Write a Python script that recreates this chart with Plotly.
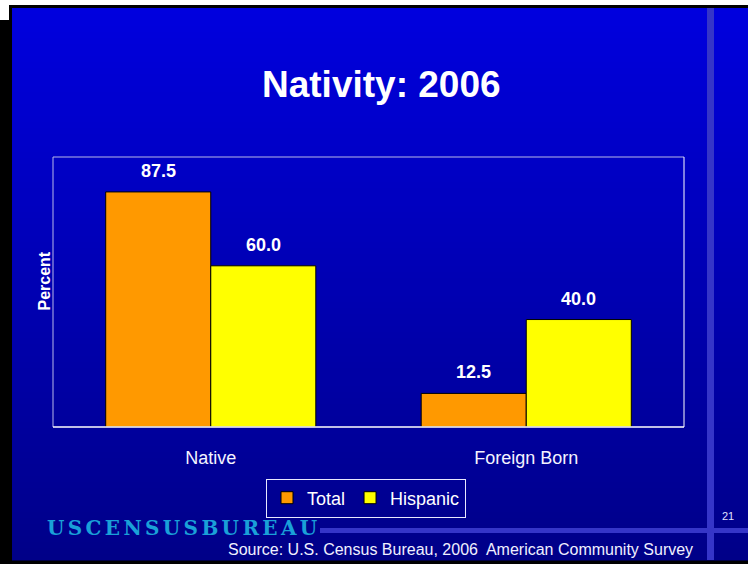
import plotly.graph_objects as go

# Nativity shares, 2006 (percent)
categories = ["Native", "Foreign Born"]
series_names = ["Total", "Hispanic"]
total_values = [87.5, 12.5]
hispanic_values = [60.0, 40.0]
bar_colors = ["#FF9900", "#FFFF00"]

W, H = 748, 564
L, R, T, B = 53, 684, 157, 427  # plot area in pixels
PW, PH = R - L, B - T


def px(x):
    return (x - L) / PW


def py(y):
    return (B - y) / PH


fig = go.Figure()
for name, vals, col in zip(series_names, [total_values, hispanic_values], bar_colors):
    fig.add_trace(go.Bar(
        x=categories, y=vals, name=name,
        marker=dict(color=col, line=dict(color="#000000", width=1)),
    ))

shapes = []
# white page with a black slide frame
shapes.append(dict(type="rect", xref="paper", yref="paper", layer="below",
                   x0=px(9), x1=px(760), y0=py(5), y1=py(570),
                   fillcolor="#000000", line=dict(width=0)))
shapes.append(dict(type="rect", xref="paper", yref="paper", layer="below",
                   x0=px(0), x1=px(9), y0=py(20), y1=py(570),
                   fillcolor="#000000", line=dict(width=0)))
# vertical blue gradient background
top_y, bot_y = 8, 560
c_top, c_bot = (0, 0, 222), (0, 0, 136)
n = 92
for i in range(n):
    y0 = top_y + (bot_y - top_y) * i / n
    y1 = top_y + (bot_y - top_y) * (i + 1) / n
    t = (i + 0.5) / n
    c = tuple(round(a + (b - a) * t) for a, b in zip(c_top, c_bot))
    shapes.append(dict(type="rect", xref="paper", yref="paper", layer="below",
                       x0=px(12), x1=px(760), y0=py(y0), y1=py(y1 + 0.6),
                       fillcolor="rgb(%d,%d,%d)" % c, line=dict(width=0)))
# decorative stripes
stripe = "#3535C8"
shapes.append(dict(type="rect", xref="paper", yref="paper", layer="below",
                   x0=px(707), x1=px(714), y0=py(8), y1=py(560),
                   fillcolor=stripe, line=dict(width=0)))
shapes.append(dict(type="rect", xref="paper", yref="paper", layer="below",
                   x0=px(320), x1=px(760), y0=py(528), y1=py(533),
                   fillcolor=stripe, line=dict(width=0)))
# plot frame
shapes.append(dict(type="line", xref="paper", yref="paper", x0=0, x1=0, y0=0, y1=1,
                   line=dict(color="#B8B8E8", width=1)))
shapes.append(dict(type="line", xref="paper", yref="paper", x0=0, x1=1, y0=1, y1=1,
                   line=dict(color="#B8B8E8", width=1)))
shapes.append(dict(type="line", xref="paper", yref="paper", x0=1, x1=1, y0=0, y1=1,
                   line=dict(color="#FFFFFF", width=1)))
shapes.append(dict(type="line", xref="paper", yref="paper", x0=0, x1=1, y0=0, y1=0,
                   line=dict(color="#FFFFFF", width=1.5)))

annotations = []
# value labels above each bar
bar_w = 105
for vals, shift in [(total_values, -bar_w / 2), (hispanic_values, bar_w / 2)]:
    for cat, v in zip(categories, vals):
        annotations.append(dict(x=cat, y=v, xref="x", yref="y", xshift=shift, yshift=21,
                                text="%.1f" % v, showarrow=False, yanchor="middle",
                                font=dict(family="Liberation Sans, Arial", size=18,
                                          color="#FFFFFF", weight="bold")))
annotations.append(dict(x=px(382), y=py(84), xref="paper", yref="paper",
                        text="Nativity: 2006", showarrow=False,
                        xanchor="center", yanchor="middle",
                        font=dict(family="Liberation Sans, Arial", size=37,
                                  color="#FFFFFF", weight="bold")))
annotations.append(dict(x=px(43.5), y=py(281), xref="paper", yref="paper",
                        text="Percent", textangle=-90, showarrow=False,
                        xanchor="center", yanchor="middle",
                        font=dict(family="Liberation Sans, Arial", size=16,
                                  color="#FFFFFF", weight="bold")))
annotations.append(dict(x=px(45), y=py(528), xref="paper", yref="paper",
                        text="\u2006".join("USCENSUSBUREAU"), showarrow=False,
                        xanchor="left", yanchor="middle",
                        font=dict(family="DejaVu Serif", size=20,
                                  color="#1AA0D8", weight="bold")))
annotations.append(dict(x=px(460), y=py(549), xref="paper", yref="paper",
                        text="Source: U.S. Census Bureau, 2006\u00a0 American Community Survey",
                        showarrow=False, xanchor="center", yanchor="middle",
                        font=dict(family="Liberation Sans, Arial", size=16, color="#F0F0FF")))
annotations.append(dict(x=px(728), y=py(516), xref="paper", yref="paper",
                        text="21", showarrow=False, xanchor="center", yanchor="middle",
                        font=dict(family="Liberation Sans, Arial", size=11, color="#E0E0FF")))

fig.update_layout(
    width=W, height=H,
    margin=dict(l=L, r=W - R, t=T, b=H - B, pad=0),
    paper_bgcolor="#FFFFFF", plot_bgcolor="rgba(0,0,0,0)",
    barmode="group", bargap=0.334, bargroupgap=0,
    shapes=shapes, annotations=annotations,
    showlegend=True,
    legend=dict(orientation="h", x=px(366), y=py(498), xanchor="center", yanchor="middle",
                bgcolor="rgba(0,0,0,0)", bordercolor="#E8E8FF", borderwidth=1,
                font=dict(family="Liberation Sans, Arial", size=18, color="#FFFFFF"),
                itemwidth=30, tracegroupgap=0),
    xaxis=dict(showgrid=False, zeroline=False, showline=False, ticks="",
               tickfont=dict(family="Liberation Sans, Arial", size=18, color="#F4F4FF"),
               ticklabelstandoff=18),
    yaxis=dict(range=[0, 100.5], showgrid=False, zeroline=False, showline=False,
               showticklabels=False, ticks=""),
)

fig.write_html("out.html")
